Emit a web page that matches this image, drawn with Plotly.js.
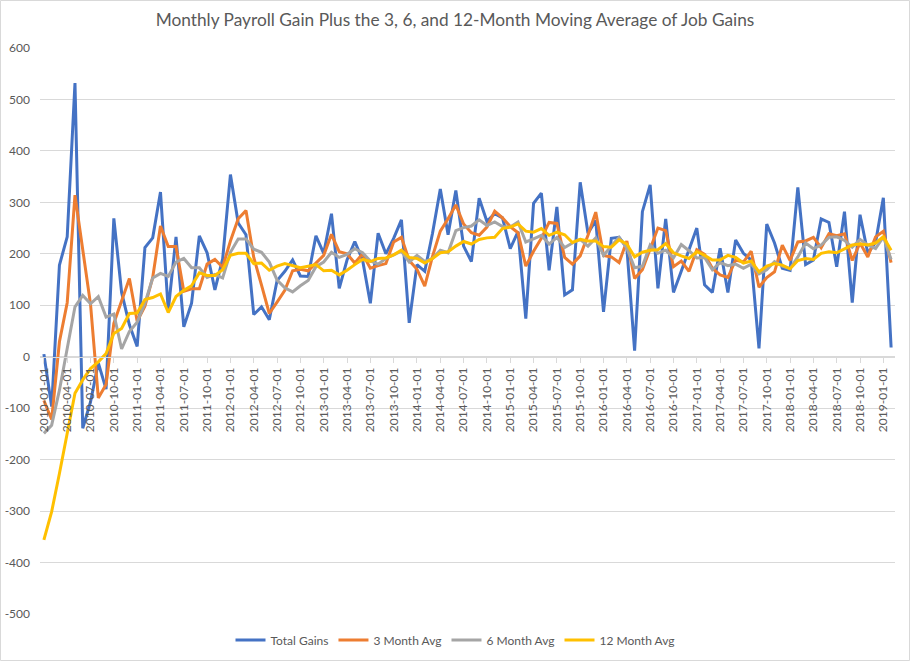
<!DOCTYPE html>
<html><head><meta charset="utf-8">
<script src="https://cdn.plot.ly/plotly-3.0.1.min.js"></script>
<style>html,body{margin:0;padding:0;background:#fff}#chart{width:910px;height:661px}</style>
</head><body><div id="chart"></div>
<script>
// Categories (monthly, 2010-01 .. 2019-02)
const months = [
 '2010-01-01','2010-02-01','2010-03-01','2010-04-01','2010-05-01','2010-06-01','2010-07-01','2010-08-01','2010-09-01','2010-10-01','2010-11-01','2010-12-01',
 '2011-01-01','2011-02-01','2011-03-01','2011-04-01','2011-05-01','2011-06-01','2011-07-01','2011-08-01','2011-09-01','2011-10-01','2011-11-01','2011-12-01',
 '2012-01-01','2012-02-01','2012-03-01','2012-04-01','2012-05-01','2012-06-01','2012-07-01','2012-08-01','2012-09-01','2012-10-01','2012-11-01','2012-12-01',
 '2013-01-01','2013-02-01','2013-03-01','2013-04-01','2013-05-01','2013-06-01','2013-07-01','2013-08-01','2013-09-01','2013-10-01','2013-11-01','2013-12-01',
 '2014-01-01','2014-02-01','2014-03-01','2014-04-01','2014-05-01','2014-06-01','2014-07-01','2014-08-01','2014-09-01','2014-10-01','2014-11-01','2014-12-01',
 '2015-01-01','2015-02-01','2015-03-01','2015-04-01','2015-05-01','2015-06-01','2015-07-01','2015-08-01','2015-09-01','2015-10-01','2015-11-01','2015-12-01',
 '2016-01-01','2016-02-01','2016-03-01','2016-04-01','2016-05-01','2016-06-01','2016-07-01','2016-08-01','2016-09-01','2016-10-01','2016-11-01','2016-12-01',
 '2017-01-01','2017-02-01','2017-03-01','2017-04-01','2017-05-01','2017-06-01','2017-07-01','2017-08-01','2017-09-01','2017-10-01','2017-11-01','2017-12-01',
 '2018-01-01','2018-02-01','2018-03-01','2018-04-01','2018-05-01','2018-06-01','2018-07-01','2018-08-01','2018-09-01','2018-10-01','2018-11-01','2018-12-01',
 '2019-01-01','2019-02-01'
];

// Tick labels shown on the category axis
const tickMonths = [
 '2010-01-01','2010-04-01','2010-07-01','2010-10-01',
 '2011-01-01','2011-04-01','2011-07-01','2011-10-01',
 '2012-01-01','2012-04-01','2012-07-01','2012-10-01',
 '2013-01-01','2013-04-01','2013-07-01','2013-10-01',
 '2014-01-01','2014-04-01','2014-07-01','2014-10-01',
 '2015-01-01','2015-04-01','2015-07-01','2015-10-01',
 '2016-01-01','2016-04-01','2016-07-01','2016-10-01',
 '2017-01-01','2017-04-01','2017-07-01','2017-10-01',
 '2018-01-01','2018-04-01','2018-07-01','2018-10-01',
 '2019-01-01'
];

const yTickVals = [-500,-400,-300,-200,-100,0,100,200,300,400,500,600];
const yTickText = ['-500','-400','-300','-200','-100','0','100','200','300','400','500','600'];

// Series values (thousands of jobs)
const totalGains = [
 5,-97,178,233,532,-139,-88,-12,-63,269,125,62,
 20,212,231,320,90,233,58,104,235,202,130,190,
 354,260,237,82,97,72,148,166,188,157,156,235,
 201,278,133,188,224,188,104,240,200,230,266,66,
 179,166,240,326,237,323,215,185,308,263,278,270,
 210,243,74,298,318,168,291,120,130,339,240,265,
 87,230,232,212,12,282,334,133,268,125,166,208,
 250,140,125,211,125,227,201,188,16,258,221,172,
 168,329,179,188,268,261,175,282,105,276,201,222,
 309,18
];
const avg3 = [
 -85,-122,29,105,314,209,102,-80,-54,65,110,152,
 69,98,154,254,214,214,127,132,132,180,189,174,
 225,268,284,193,139,84,106,129,167,170,167,183,
 197,238,204,200,182,200,172,177,181,223,232,187,
 170,137,195,244,268,295,258,241,236,252,283,270,
 253,241,176,205,230,261,259,193,180,196,236,281,
 197,194,183,225,152,169,209,250,245,175,186,166,
 208,199,172,159,154,188,184,205,135,154,165,217,
 187,223,225,232,212,239,235,239,187,221,194,233,
 244,183
];
const avg6 = [
 -149,-133,-65,19,97,119,103,117,77,83,15,49,
 67,104,153,162,156,184,191,173,173,154,160,153,
 203,229,229,209,203,184,149,134,126,138,148,175,
 184,203,193,199,210,202,186,180,191,198,205,184,
 197,185,191,207,202,245,251,254,266,255,262,253,
 252,262,223,229,236,219,232,212,221,228,215,231,
 197,215,232,211,173,176,217,201,207,192,218,206,
 192,193,169,183,177,180,172,180,161,169,185,176,
 171,194,221,210,217,232,233,226,213,228,217,210,
 233,189
];
const avg12 = [
 -356,-301,-227,-146,-71,-45,-23,-10,6,45,55,84,
 85,111,115,122,86,117,129,138,163,158,158,169,
 197,201,201,181,182,168,176,181,177,173,176,179,
 167,168,159,168,179,189,185,191,192,198,207,193,
 191,182,191,202,204,215,224,219,228,231,232,249,
 252,258,244,242,249,236,242,237,222,228,225,225,
 214,213,227,219,194,203,207,208,220,202,196,191,
 204,197,188,188,197,193,182,186,165,176,181,178,
 171,187,191,189,201,204,202,210,217,219,217,221,
 233,207
];

const seriesNames = ['Total Gains','3 Month Avg','6 Month Avg','12 Month Avg'];
const seriesColors = ['#4472C4','#ED7D31','#A5A5A5','#FFC000'];
const seriesData = [totalGains, avg3, avg6, avg12];

const traces = seriesData.map((d, k) => ({
  x: months, y: d, name: seriesNames[k], type: 'scatter', mode: 'lines',
  line: {color: seriesColors[k], width: 3, shape: 'linear'},
  hoverinfo: 'skip'
}));

const L = 40, R = 15, T = 48, B = 47, W = 910, H = 661;
const pw = W - L - R, ph = H - T - B;

const layout = {
  width: W, height: H,
  margin: {l: L, r: R, t: T, b: B, pad: 0, autoexpand: false},
  paper_bgcolor: '#ffffff', plot_bgcolor: '#ffffff',
  font: {family: 'Lato, "Open Sans", sans-serif', color: '#595959', size: 12},
  title: {
    text: 'Monthly Payroll Gain Plus the 3, 6, and 12-Month Moving Average of Job Gains',
    font: {size: 17.3, color: '#595959', family: 'Lato, "Open Sans", sans-serif'},
    x: 0.5, xanchor: 'center', xref: 'container', y: 1 - 20 / H, yanchor: 'middle', yref: 'container'
  },
  xaxis: {
    type: 'category', categoryorder: 'array', categoryarray: months,
    range: [-0.5, months.length - 0.5],
    anchor: 'free', position: 500 / 1100,
    tickmode: 'array', tickvals: tickMonths, ticktext: tickMonths,
    tickangle: -90, ticks: 'outside', ticklen: 5, tickcolor: '#d9d9d9', tickwidth: 1,
    showline: true, linecolor: '#d9d9d9', linewidth: 1,
    showgrid: false, zeroline: false,
    tickfont: {size: 12, color: '#595959'}
  },
  yaxis: {
    range: [-500, 600], domain: [0, 1],
    tickmode: 'array', tickvals: yTickVals, ticktext: yTickText,
    showgrid: true, gridcolor: '#d9d9d9', gridwidth: 1,
    zeroline: false, showline: false, ticks: '',
    ticklabelstandoff: 9,
    tickfont: {size: 12, color: '#595959'}
  },
  legend: {
    orientation: 'h', x: 0.5, xanchor: 'center', xref: 'container',
    y: 1 - 640 / H, yanchor: 'middle', yref: 'container',
    font: {size: 12, color: '#595959'},
    itemwidth: 30, tracegroupgap: 0, bgcolor: 'rgba(0,0,0,0)'
  },
  showlegend: true,
  shapes: [{
    type: 'rect', xref: 'paper', yref: 'paper',
    x0: (0.5 - L) / pw, x1: (W - 0.5 - L) / pw,
    y0: (T + ph - (H - 0.5)) / ph, y1: (T + ph - 0.5) / ph,
    line: {color: '#d9d9d9', width: 1}, fillcolor: 'rgba(0,0,0,0)', layer: 'below'
  }]
};

Plotly.newPlot('chart', traces, layout, {staticPlot: true, displayModeBar: false});
</script>
</body></html>
